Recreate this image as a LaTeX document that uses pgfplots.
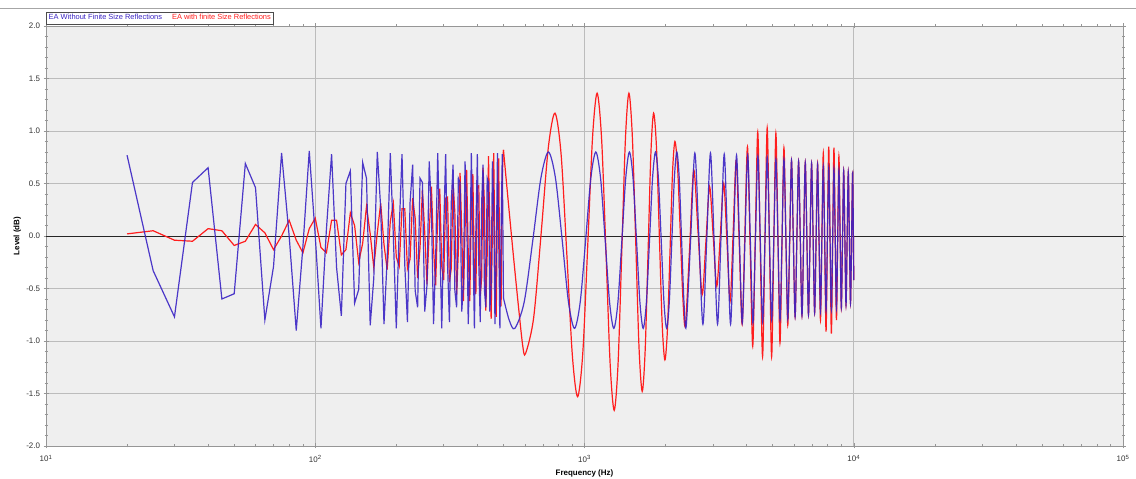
\documentclass[border=0pt]{standalone}
\usepackage{fontspec}
\setmainfont{Liberation Sans}
\usepackage{pgfplots}
\pgfplotsset{compat=1.18}
\usetikzlibrary{calc}

\definecolor{plotbg}{RGB}{239,239,239}
\definecolor{gridc}{RGB}{188,188,188}
\definecolor{axisc}{RGB}{150,150,150}
\definecolor{bluec}{RGB}{58,36,196}
\definecolor{redc}{RGB}{255,30,30}

\begin{document}
\begin{tikzpicture}
\begin{axis}[
    name=ax,
    scale only axis,
    width=1077bp,
    height=420bp,
    xmode=log,
    xmin=10, xmax=100000,
    ymin=-2, ymax=2,
    xtick={10,100,1000,10000,100000},
    xticklabels={10\textsuperscript{1},10\textsuperscript{2},10\textsuperscript{3},10\textsuperscript{4},10\textsuperscript{5}},
    minor xtick={20,30,40,50,60,70,80,90,200,300,400,500,600,700,800,900,2000,3000,4000,5000,6000,7000,8000,9000,20000,30000,40000,50000,60000,70000,80000,90000},
    ytick={-2,-1.5,-1,-0.5,0,0.5,1,1.5,2},
    minor y tick num=4,
    yticklabel style={/pgf/number format/.cd,fixed,fixed zerofill,precision=1,assume math mode=true},
    tick label style={font=\fontsize{8}{9}\selectfont, text=black!80},
    xticklabel style={yshift=-3bp},
    label style={font=\fontsize{8}{9}\selectfont\bfseries},
    xlabel={Frequency (Hz)},
    ylabel={Level (dB)},
    xlabel style={yshift=-1bp},
    ylabel style={yshift=-4bp},
    axis background/.style={fill=plotbg},
    grid=major,
    major grid style={gridc, line width=0.6bp},
    axis line style={axisc, line width=0.6bp},
    tick style={axisc, line width=0.5bp},
    tick align=center,
    major tick length=5bp,
    minor tick length=3bp,
    extra y ticks={0},
    extra y tick labels={},
    extra y tick style={major tick length=0pt, grid=major, major grid style={black!85, line width=0.6bp}},
    legend image code/.code={},
    reverse legend,
    legend columns=2,
    legend style={at={(0,1)}, anchor=south west, yshift=2bp, draw=black!70, fill=white,
        font=\fontsize{7.5}{8}\selectfont, inner sep=0.5bp, row sep=-1bp,
        /tikz/every even column/.append style={column sep=6bp}},
]
% red series, low band (5 Hz steps)
\addplot[redc, line width=1.2bp, forget plot] coordinates {
(20,0.02) (25,0.05) (30,-0.04) (35,-0.05) (40,0.07) (45,0.05) (50,-0.09) (55,-0.05)
(60,0.11) (65,0.03) (70,-0.13) (75,0.00) (80,0.15) (85,-0.04) (90,-0.16) (95,0.07)
(100,0.17) (105,-0.11) (110,-0.16) (115,0.15) (120,0.15) (125,-0.18) (130,-0.13) (135,0.22)
(140,0.10) (145,-0.25) (150,-0.07) (155,0.28) (160,0.02) (165,-0.30) (170,0.03) (175,0.31)
(180,-0.08) (185,-0.32) (190,0.14) (195,0.31) (200,-0.20) (205,-0.29) (210,0.26) (215,0.26)
(220,-0.31) (225,-0.22) (230,0.36) (235,0.17) (240,-0.40) (245,-0.11) (250,0.44) (255,0.04)
(260,-0.46) (265,0.04) (270,0.47) (275,-0.12) (280,-0.47) (285,0.20) (290,0.45) (295,-0.29)
(300,-0.42) (305,0.36) (310,0.37) (315,-0.44) (320,-0.31) (325,0.50) (330,0.23) (335,-0.56)
(340,-0.15) (345,0.60) (350,0.05) (355,-0.62) (360,0.05) (365,0.63) (370,-0.16) (375,-0.62)
(380,0.27) (385,0.59) (390,-0.37) (395,-0.55) (400,0.47) (405,0.48) (410,-0.57) (415,-0.40)
(420,0.65) (425,0.30) (430,-0.71) (435,-0.19) (440,0.76) (445,0.06) (450,-0.79) (455,0.07)
(460,0.79) (465,-0.20) (470,-0.77) (475,0.33) (480,0.74) (485,-0.46) (490,-0.67) (495,0.58)
(500,0.82)
};
% red series, upper band
\addplot[redc, line width=1.2bp, smooth] coordinates {
(500,0.82) (520,0.35) (545,-0.20) (570,-0.70) (590,-1.05) (604,-1.12)
(647.25,-0.78) (690.5,0.03) (733.75,0.84) (777,1.17) (818.5,0.78) (860,-0.18) (901.5,-1.14)
(943,-1.53) (985.75,-1.11) (1028.5,-0.08) (1071.25,0.94) (1114,1.36) (1157.75,0.92)
(1201.5,-0.15) (1245.25,-1.22) (1289,-1.66) (1332.25,-1.22) (1375.5,-0.15) (1418.75,0.92)
(1462,1.36) (1506,0.94) (1550,-0.06) (1594,-1.06) (1638,-1.48) (1680,-1.09) (1722,-0.16)
(1764,0.78) (1806,1.17) (1851.75,0.83) (1897.5,-0.01) (1943.25,-0.84) (1989,-1.18)
(2033.5,-0.88) (2078,-0.14) (2122.5,0.60) (2167,0.90) (2217.75,0.64) (2268.5,0.03)
(2319.25,-0.59) (2370,-0.85) (2457.5,-0.11) (2545,0.63) (2640,0.04) (2735,-0.56)
(2825,-0.05) (2915,0.47) (3007.5,-0.01) (3100,-0.48) (3195,0.01) (3290,0.50) (3382.5,-0.06)
(3475,-0.62) (3567.5,0.05) (3660,0.72) (3755,-0.06) (3850,-0.84) (3940,0.00) (4030,0.85)
(4122.5,-0.10) (4215,-1.05) (4307.5,-0.03) (4400,0.99) (4492.5,-0.08) (4585,-1.15)
(4677.5,-0.06) (4770,1.03) (4862,-0.06) (4954,-1.15) (5046,-0.09) (5138,0.98) (5229.5,-0.02)
(5321,-1.02) (5413,-0.09) (5505,0.84) (5596.5,-0.01) (5688,-0.85) (5780.25,-0.07)
(5872.5,0.72) (5964.25,-0.03) (6056,-0.77) (6147.75,-0.03) (6239.5,0.71) (6331.25,-0.03)
(6423,-0.76) (6514.75,-0.03) (6606.5,0.70) (6698.25,-0.03) (6790,-0.75) (6881.75,-0.03)
(6973.5,0.69) (7065.25,-0.02) (7157,-0.73) (7248.75,-0.02) (7340.5,0.69) (7432.25,-0.06)
(7524,-0.80) (7615.75,-0.01) (7707.5,0.79) (7799.25,-0.06) (7891,-0.91) (7982.75,-0.03)
(8074.5,0.85) (8166.25,-0.04) (8258,-0.93) (8349.75,-0.05) (8441.5,0.84) (8533.25,0.02)
(8625,-0.80) (8716.75,-0.02) (8808.5,0.76) (8900.25,0.03) (8992,-0.69) (9083.75,-0.04)
(9175.5,0.62) (9267.25,-0.02) (9359,-0.66) (9450.75,-0.03) (9542.5,0.61) (9634.25,-0.02)
(9726,-0.64) (9817.75,-0.02) (9909.5,0.60) (10000,-0.42)
};
\addlegendentry{\textcolor{redc}{EA with finite Size Reflections}}
% blue series, low band (5 Hz steps)
\addplot[bluec, line width=1.2bp, opacity=0.9, forget plot] coordinates {
(20,0.77) (25,-0.33) (30,-0.77) (35,0.51) (40,0.65) (45,-0.60) (50,-0.55) (55,0.69)
(60,0.46) (65,-0.80) (70,-0.29) (75,0.79) (80,0.00) (85,-0.90) (90,-0.10) (95,0.81)
(100,0.00) (105,-0.88) (110,0.06) (115,0.78) (120,-0.30) (125,-0.76) (130,0.50) (135,0.62)
(140,-0.64) (145,-0.51) (150,0.70) (155,0.55) (160,-0.85) (165,-0.40) (170,0.80) (175,0.27)
(180,-0.84) (185,-0.22) (190,0.79) (195,0.00) (200,-0.88) (205,0.06) (210,0.78) (215,-0.27)
(220,-0.82) (225,0.32) (230,0.68) (235,-0.52) (240,-0.68) (245,0.55) (250,0.51) (255,-0.72)
(260,-0.47) (265,0.71) (270,0.27) (275,-0.84) (280,-0.22) (285,0.79) (290,0.00) (295,-0.88)
(300,0.06) (305,0.78) (310,-0.27) (315,-0.82) (320,0.32) (325,0.68) (330,-0.52) (335,-0.68)
(340,0.55) (345,0.51) (350,-0.72) (355,-0.47) (360,0.71) (365,0.27) (370,-0.84) (375,-0.22)
(380,0.79) (385,0.00) (390,-0.88) (395,0.06) (400,0.78) (405,-0.27) (410,-0.82) (415,0.32)
(420,0.68) (425,-0.52) (430,-0.68) (435,0.55) (440,0.51) (445,-0.72) (450,-0.47) (455,0.71)
(460,0.27) (465,-0.84) (470,-0.22) (475,0.79) (480,0.00) (485,-0.88) (490,0.06) (495,0.78)
(500,-0.59)
};
% blue series, upper band
\addplot[bluec, line width=1.2bp, opacity=0.9, smooth] coordinates {
(500,-0.59) (525,-0.80) (551,-0.88) (596.9,-0.63) (642.8,-0.04) (688.6,0.55) (734.5,0.80)
(780.4,0.55) (826.3,-0.04) (872.1,-0.63) (918,-0.88) (963.9,-0.63) (1009.8,-0.04)
(1055.6,0.55) (1101.5,0.80) (1147.4,0.55) (1193.3,-0.04) (1239.1,-0.63) (1285,-0.88)
(1330.9,-0.63) (1376.8,-0.04) (1422.6,0.55) (1468.5,0.80) (1514.4,0.55) (1560.3,-0.04)
(1606.1,-0.63) (1652,-0.88) (1697.9,-0.63) (1743.8,-0.04) (1789.6,0.55) (1835.5,0.80)
(1881.4,0.55) (1927.3,-0.04) (1973.1,-0.63) (2019,-0.88) (2064.9,-0.63) (2110.8,-0.04)
(2156.6,0.55) (2202.5,0.80) (2248.4,0.55) (2294.3,-0.04) (2340.1,-0.62) (2386,-0.86)
(2477.75,-0.04) (2569.5,0.79) (2661.25,-0.03) (2753,-0.84) (2844.75,-0.03) (2936.5,0.79)
(3028.25,-0.03) (3120,-0.84) (3211.75,-0.03) (3303.5,0.78) (3395.25,-0.03) (3487,-0.84)
(3578.75,-0.04) (3670.5,0.77) (3762.25,-0.03) (3854,-0.83) (3945.75,-0.03) (4037.5,0.77)
(4129.25,-0.03) (4221,-0.83) (4312.75,-0.04) (4404.5,0.76) (4496.25,-0.03) (4588,-0.82)
(4679.75,-0.04) (4771.5,0.75) (4863.25,-0.03) (4955,-0.80) (5046.75,-0.04) (5138.5,0.73)
(5230.25,-0.04) (5322,-0.80) (5413.75,-0.04) (5505.5,0.73) (5597.25,-0.03) (5689,-0.79)
(5780.75,-0.04) (5872.5,0.72) (5964.25,-0.03) (6056,-0.77) (6147.75,-0.03) (6239.5,0.71)
(6331.25,-0.03) (6423,-0.76) (6514.75,-0.03) (6606.5,0.70) (6698.25,-0.03) (6790,-0.75)
(6881.75,-0.03) (6973.5,0.69) (7065.25,-0.02) (7157,-0.73) (7248.75,-0.02) (7340.5,0.68)
(7432.25,-0.02) (7524,-0.72) (7615.75,-0.03) (7707.5,0.66) (7799.25,-0.03) (7891,-0.71)
(7982.75,-0.03) (8074.5,0.65) (8166.25,-0.03) (8258,-0.70) (8349.75,-0.03) (8441.5,0.64)
(8533.25,-0.03) (8625,-0.69) (8716.75,-0.03) (8808.5,0.63) (8900.25,-0.03) (8992,-0.68)
(9083.75,-0.03) (9175.5,0.62) (9267.25,-0.02) (9359,-0.66) (9450.75,-0.03) (9542.5,0.61)
(9634.25,-0.02) (9726,-0.64) (9817.75,-0.02) (9909.5,0.60) (10000,-0.42)
};
\addlegendentry{\textcolor{bluec}{EA Without Finite Size Reflections}}
\end{axis}
\draw[black!35, line width=0.8bp] ($(ax.north west)+(-46bp,18bp)$) -- ($(ax.north east)+(13bp,18bp)$);
\pgfresetboundingbox
\path ($(ax.south west)+(-46bp,-33bp)$) rectangle ($(ax.north east)+(13bp,26bp)$);
\end{tikzpicture}
\end{document}
